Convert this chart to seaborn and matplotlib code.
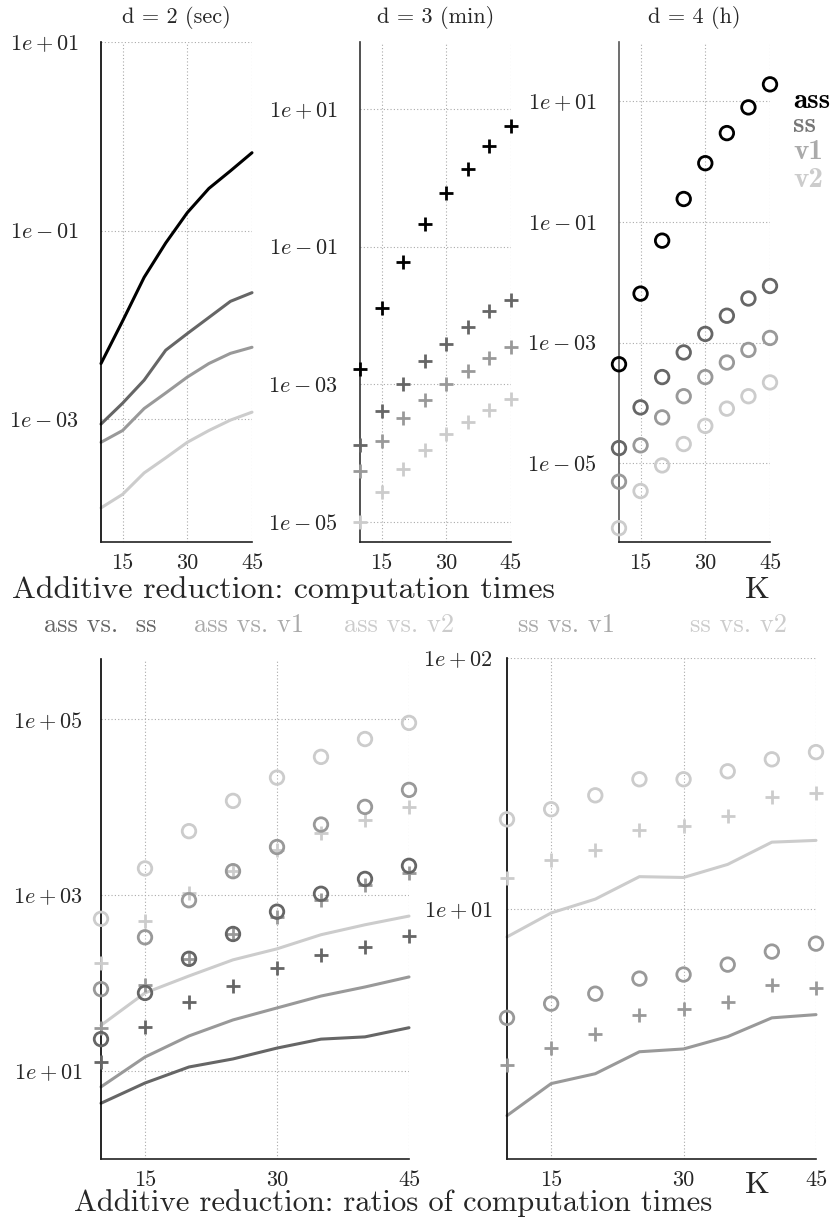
import numpy as np
import matplotlib
matplotlib.use("Agg")
import matplotlib.pyplot as plt
import seaborn as sns
from matplotlib.ticker import FixedLocator, FuncFormatter, NullLocator

# K values
K = [10, 15, 20, 25, 30, 35, 40, 45]

# computation times, d = 2 (sec)
d2_ass = [3.9e-3, 0.011, 0.032, 0.074, 0.155, 0.28, 0.43, 0.67]
d2_ss = [8.9e-4, 1.48e-3, 2.6e-3, 5.4e-3, 8.1e-3, 0.012, 0.0178, 0.022]
d2_v1 = [5.7e-4, 7.6e-4, 1.3e-3, 1.9e-3, 2.8e-3, 3.9e-3, 5.0e-3, 5.8e-3]
d2_v2 = [1.15e-4, 1.6e-4, 2.7e-4, 3.9e-4, 5.7e-4, 7.6e-4, 9.8e-4, 1.19e-3]

# d = 3 (min)
d3_ass = [1.65e-3, 0.013, 0.060, 0.21, 0.59, 1.35, 2.9, 5.7]
d3_ss = [1.3e-4, 4.1e-4, 1.0e-3, 2.2e-3, 3.9e-3, 6.7e-3, 0.0115, 0.0166]
d3_v1 = [5.5e-5, 1.5e-4, 3.2e-4, 6.0e-4, 1.0e-3, 1.55e-3, 2.4e-3, 3.5e-3]
d3_v2 = [1.0e-5, 2.7e-5, 5.9e-5, 1.1e-4, 1.9e-4, 2.8e-4, 4.2e-4, 6.1e-4]

# d = 4 (h)
d4_ass = [4.4e-4, 6.5e-3, 0.049, 0.24, 0.94, 2.96, 7.9, 19.0]
d4_ss = [1.8e-5, 8.5e-5, 2.7e-4, 6.9e-4, 1.4e-3, 2.8e-3, 5.4e-3, 8.7e-3]
d4_v1 = [5.0e-6, 2.0e-5, 5.8e-5, 1.3e-4, 2.7e-4, 4.7e-4, 7.6e-4, 1.2e-3]
d4_v2 = [8.5e-7, 3.5e-6, 9.3e-6, 2.1e-5, 4.2e-5, 8.1e-5, 1.3e-4, 2.2e-4]

# ratios, lines = d2, plus = d3, circles = d4
r2_ass_ss = [4.3, 7.3, 11.1, 13.7, 18.2, 23, 24.4, 31]
r2_ass_v1 = [6.6, 14.4, 25, 38, 52, 71, 90, 117]
r2_ass_v2 = [33, 77, 120, 183, 244, 353, 458, 575]
r3_ass_ss = [12.6, 32, 61, 92, 148, 210, 258, 340]
r3_ass_v1 = [31, 95, 188, 360, 560, 870, 1290, 1780]
r3_ass_v2 = [170, 500, 1050, 1860, 3240, 5000, 7050, 10000]
r4_ass_ss = [23, 77, 188, 360, 645, 1030, 1520, 2140]
r4_ass_v1 = [85, 330, 870, 1860, 3500, 6300, 10000, 15600]
r4_ass_v2 = [535, 2000, 5300, 11700, 21500, 37000, 59000, 90000]

r2_ss_v1 = [1.49, 2.0, 2.19, 2.68, 2.75, 3.08, 3.66, 3.77]
r2_ss_v2 = [7.7, 9.6, 10.9, 13.4, 13.3, 15.0, 18.4, 18.7]
r3_ss_v1 = [2.38, 2.78, 3.16, 3.77, 3.98, 4.25, 4.97, 4.83]
r3_ss_v2 = [13.2, 15.6, 17.2, 20.5, 21.3, 23.3, 27.8, 28.8]
r4_ss_v1 = [3.66, 4.17, 4.57, 5.25, 5.45, 5.97, 6.73, 7.24]
r4_ss_v2 = [22.7, 24.9, 28.3, 32.8, 32.8, 35.3, 39.4, 42.1]

c_ass, c_ss, c_v1, c_v2 = "#000000", "#666666", "#999999", "#cccccc"

sns.set_style("white")
plt.rcParams["font.family"] = ["cmr10", "DejaVu Serif"]
plt.rcParams["mathtext.fontset"] = "cm"
plt.rcParams["axes.unicode_minus"] = False

W, H = 838, 1220
fig = plt.figure(figsize=(W / 100, H / 100), dpi=100)


def px_axes(l, r, t, b):
    return fig.add_axes([l / W, 1 - b / H, (r - l) / W, (b - t) / H])


def fmt(v, _):
    return f"$1e{int(round(np.log10(v))):+03d}$"


def style(ax, ylim, yticks, spine="black", ypad=16):
    ax.set_yscale("log")
    ax.set_xlim(10, 45)
    ax.set_ylim(*ylim)
    ax.xaxis.set_major_locator(FixedLocator([15, 30, 45]))
    ax.yaxis.set_major_locator(FixedLocator(yticks))
    ax.yaxis.set_major_formatter(FuncFormatter(fmt))
    ax.yaxis.set_minor_locator(NullLocator())
    ax.grid(True, linestyle=(0, (1, 2)), color="#aaaaaa", linewidth=0.8)
    for s in ["top", "right"]:
        ax.spines[s].set_visible(False)
    ax.spines["left"].set_color(spine)
    ax.spines["bottom"].set_color("#222222")
    ax.spines["left"].set_linewidth(1.2)
    ax.spines["bottom"].set_linewidth(1.2)
    ax.tick_params(axis="y", length=0, pad=ypad, labelsize=16)
    ax.tick_params(axis="x", direction="in", length=4, pad=8, labelsize=16, color="#444444")
    ax.set_xlabel("")
    ax.set_ylabel("")


def line(ax, y, c):
    sns.lineplot(x=K, y=y, ax=ax, color=c, linewidth=2.2, clip_on=False)


def plus(ax, y, c):
    sns.scatterplot(x=K, y=y, ax=ax, marker="+", color=c, s=110, linewidth=2, clip_on=False, zorder=3)


def circ(ax, y, c):
    sns.scatterplot(x=K, y=y, ax=ax, marker="o", s=95, facecolor="none", edgecolor=c,
                    linewidth=2, clip_on=False, zorder=3)


# top row
ax1 = px_axes(101, 252, 42, 542)
for y, c in [(d2_ass, c_ass), (d2_ss, c_ss), (d2_v1, c_v1), (d2_v2, c_v2)]:
    line(ax1, y, c)
style(ax1, (5e-5, 10), [1e1, 1e-1, 1e-3], "black")

ax2 = px_axes(360, 511, 42, 542)
for y, c in [(d3_ass, c_ass), (d3_ss, c_ss), (d3_v1, c_v1), (d3_v2, c_v2)]:
    plus(ax2, y, c)
style(ax2, (10 ** -5.29, 10 ** 1.97), [1e1, 1e-1, 1e-3, 1e-5], "#333333")

ax3 = px_axes(619, 770, 42, 542)
for y, c in [(d4_ass, c_ass), (d4_ss, c_ss), (d4_v1, c_v1), (d4_v2, c_v2)]:
    circ(ax3, y, c)
style(ax3, (10 ** -6.3, 10 ** 1.98), [1e1, 1e-1, 1e-3, 1e-5], "#555555")

for ax, t in [(ax1, "d = 2 (sec)"), (ax2, "d = 3 (min)"), (ax3, "d = 4 (h)")]:
    ax.set_title(t, fontsize=16, pad=14)

# bottom row
ax4 = px_axes(101, 409, 659, 1159)
for y, c in [(r2_ass_ss, c_ss), (r2_ass_v1, c_v1), (r2_ass_v2, c_v2)]:
    line(ax4, y, c)
for y, c in [(r3_ass_ss, c_ss), (r3_ass_v1, c_v1), (r3_ass_v2, c_v2)]:
    plus(ax4, y, c)
for y, c in [(r4_ass_ss, c_ss), (r4_ass_v1, c_v1), (r4_ass_v2, c_v2)]:
    circ(ax4, y, c)
style(ax4, (1, 10 ** 5.68), [1e5, 1e3, 1e1], ypad=13)

ax5 = px_axes(507, 816, 658, 1159)
for y, c in [(r2_ss_v1, c_v1), (r2_ss_v2, c_v2)]:
    line(ax5, y, c)
for y, c in [(r3_ss_v1, c_v1), (r3_ss_v2, c_v2)]:
    plus(ax5, y, c)
for y, c in [(r4_ss_v1, c_v1), (r4_ss_v2, c_v2)]:
    circ(ax5, y, c)
style(ax5, (1, 100), [1e2, 1e1], ypad=10)


def ftext(x, y, s, **kw):
    fig.text(x / W, 1 - y / H, s, **kw)


# legend for top row
for yy, s, c in [(101, "ass", c_ass), (125, "ss", "#777777"), (152, "v1", "#aaaaaa"), (180, "v2", "#cccccc")]:
    ftext(793, yy, s, color=c, fontsize=21, family="cmb10", va="center", ha="left")

ftext(12, 590, "Additive reduction: computation times", fontsize=23, va="center", ha="left")
ftext(757, 590, "K", fontsize=23, va="center", ha="center")

for xx, s, c in [(100, "ass vs.  ss", "#666666"), (249, "ass vs. v1", "#aaaaaa"),
                 (399, "ass vs. v2", "#cccccc"), (566, "ss vs. v1", "#aaaaaa"),
                 (738, "ss vs. v2", "#cccccc")]:
    ftext(xx, 625, s, color=c, fontsize=19, va="center", ha="center")

ftext(393, 1203, "Additive reduction: ratios of computation times", fontsize=22, va="center", ha="center")
ftext(757, 1185, "K", fontsize=23, va="center", ha="center")

fig.savefig("out.png", dpi=100)
